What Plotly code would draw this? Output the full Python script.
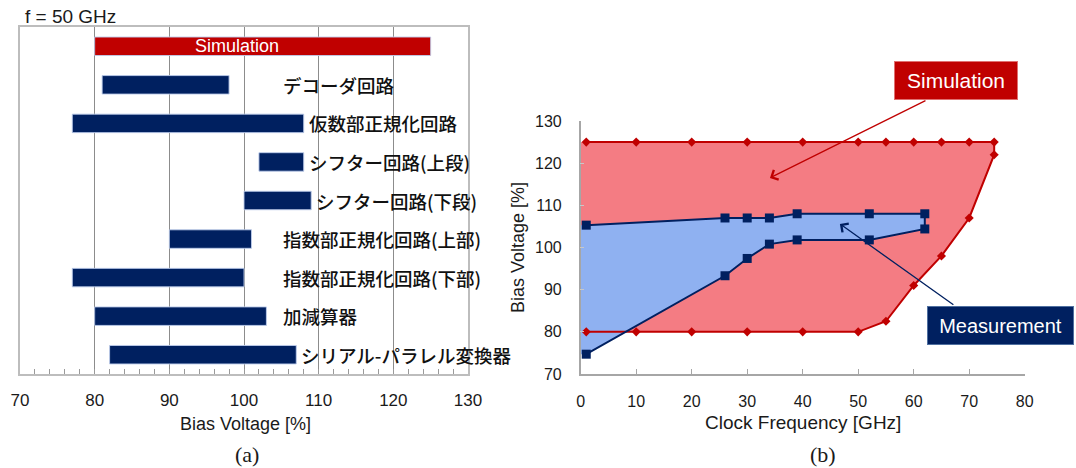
import plotly.graph_objects as go

# ---- (a) operating margin of each block at f = 50 GHz ----
blocks = [
    "Simulation",
    "デコーダ回路",
    "仮数部正規化回路",
    "シフター回路(上段)",
    "シフター回路(下段)",
    "指数部正規化回路(上部)",
    "指数部正規化回路(下部)",
    "加減算器",
    "シリアル-パラレル変換器",
]
bias_min = [80, 81, 77, 102, 100, 90, 77, 80, 82]
bias_max = [125, 98, 108, 108, 109, 101, 100, 103, 107]
bias_ticks = [70, 80, 90, 100, 110, 120, 130]

# ---- (b) bias margin versus clock frequency ----
sim_freq = [1, 10, 20, 30, 40, 50, 55, 60, 65, 70, 74.5]
sim_upper = [125, 125, 125, 125, 125, 125, 125, 125, 125, 125, 125]
sim_lower = [80, 80, 80, 80, 80, 80, 82.5, 91, 98, 107, 122]

meas_freq = [1, 26, 30, 34, 39, 52, 62]
meas_upper = [105.3, 107, 107, 107, 108, 108, 108]
meas_lower = [74.7, 93.3, 97.4, 100.8, 101.8, 101.8, 104.4]

freq_ticks = [0, 10, 20, 30, 40, 50, 60, 70, 80]
volt_ticks = [70, 80, 90, 100, 110, 120, 130]

RED = "#C00000"
NAVY = "#002060"
PINK = "#F47C83"
LIGHTBLUE = "#8FB1F1"
LATIN = "Liberation Sans, Arial, sans-serif"
CJK = "Noto Sans CJK JP, sans-serif"

W, H = 1076, 468
fig = go.Figure()

# horizontal range bars
colors = [RED] + [NAVY] * (len(blocks) - 1)
fig.add_trace(go.Bar(
    y=blocks,
    x=[hi - lo for lo, hi in zip(bias_min, bias_max)],
    base=bias_min,
    orientation="h",
    width=0.48,
    marker=dict(color=colors, line=dict(color="rgba(190,205,235,0.9)", width=1)),
    xaxis="x", yaxis="y",
    hoverinfo="skip",
))

# block names beside each bar
for name, hi in list(zip(blocks, bias_max))[1:]:
    fig.add_annotation(
        x=max(hi + 0.4, 105), y=name, xref="x", yref="y",
        text=name, showarrow=False, xanchor="left", yanchor="middle",
        font=dict(family=CJK, size=18.5, color="#111111", weight=500),
    )
# label written over the simulation bar
fig.add_annotation(
    x=99, y=blocks[0], xref="x", yref="y",
    text="Simulation", showarrow=False, xanchor="center", yanchor="middle",
    font=dict(family=LATIN, size=18, color="white"),
)

# (b) filled regions, extended to the left edge of the axis
x0 = freq_ticks[0]
fig.add_trace(go.Scatter(
    x=[x0] + sim_freq + sim_freq[::-1] + [x0],
    y=[sim_upper[0]] + sim_upper + sim_lower[::-1] + [sim_lower[0]],
    fill="toself", fillcolor=PINK, mode="none",
    xaxis="x2", yaxis="y2", hoverinfo="skip",
))
fig.add_trace(go.Scatter(
    x=[x0] + meas_freq + meas_freq[::-1] + [x0],
    y=[meas_upper[0]] + meas_upper + meas_lower[::-1] + [meas_lower[0]],
    fill="toself", fillcolor=LIGHTBLUE, mode="none",
    xaxis="x2", yaxis="y2", hoverinfo="skip",
))
# boundary lines with markers (open on the left side)
fig.add_trace(go.Scatter(
    x=sim_freq + sim_freq[::-1],
    y=sim_upper + sim_lower[::-1],
    mode="lines+markers",
    line=dict(color=RED, width=2),
    marker=dict(symbol="diamond", size=7, color=RED),
    xaxis="x2", yaxis="y2", cliponaxis=False, hoverinfo="skip",
))
fig.add_trace(go.Scatter(
    x=meas_freq + meas_freq[::-1],
    y=meas_upper + meas_lower[::-1],
    mode="lines+markers",
    line=dict(color=NAVY, width=2),
    marker=dict(symbol="square", size=9, color=NAVY),
    xaxis="x2", yaxis="y2", cliponaxis=False, hoverinfo="skip",
))

# callout boxes with arrows
fig.add_annotation(
    x=956 / W, y=1 - 80.5 / H, xref="paper", yref="paper",
    xanchor="center", yanchor="middle",
    text="Simulation", showarrow=False, width=122, height=37,
    bgcolor=RED, bordercolor="#E07070", borderwidth=1, borderpad=0,
    font=dict(family=LATIN, size=21, color="white"),
)
fig.add_annotation(
    x=34.1, y=116.5, xref="x2", yref="y2", ax=157, ay=-78,
    text="", showarrow=True, arrowhead=4, arrowsize=1.6, arrowwidth=1.3,
    arrowcolor=RED,
)
fig.add_annotation(
    x=1000 / W, y=1 - 325 / H, xref="paper", yref="paper",
    xanchor="center", yanchor="middle",
    text="Measurement", showarrow=False, width=145, height=37,
    bgcolor=NAVY, bordercolor="#5070A0", borderwidth=1, borderpad=0,
    font=dict(family=LATIN, size=20, color="white"),
)
fig.add_annotation(
    x=46.7, y=105.6, xref="x2", yref="y2", ax=115, ay=82,
    text="", showarrow=True, arrowhead=4, arrowsize=1.6, arrowwidth=1.3,
    arrowcolor=NAVY,
)

# titles and captions
texts = [
    ("f = 50 GHz", 23 / W, 1 - 17 / H, "left", 0, LATIN, 19),
    ("Bias Voltage [%]", 245 / W, 1 - 424 / H, "center", 0, LATIN, 18),
    ("Clock Frequency [GHz]", 803 / W, 1 - 422 / H, "center", 0, LATIN, 19),
    ("Bias Voltage [%]", 518 / W, 1 - 248 / H, "center", -90, LATIN, 18),
]
for t, px, py, xa, ang, fam, sz in texts:
    fig.add_annotation(
        x=px, y=py, xref="paper", yref="paper", text=t, showarrow=False,
        xanchor=xa, yanchor="middle", textangle=ang,
        font=dict(family=fam, size=sz, color="#1a1a1a"),
    )
for t, px, py in [("(a)", 247 / W, 1 - 454 / H), ("(b)", 823 / W, 1 - 454 / H)]:
    fig.add_annotation(
        x=px, y=py, xref="paper", yref="paper", text=t, showarrow=False,
        xanchor="center", yanchor="middle",
        font=dict(family="Liberation Serif, DejaVu Serif, serif", size=22, color="#1a1a1a"),
    )

fig.update_layout(
    width=W, height=H,
    margin=dict(l=0, r=0, t=0, b=0, pad=0, autoexpand=False),
    paper_bgcolor="white", plot_bgcolor="white",
    showlegend=False,
    bargap=0.5,
    xaxis=dict(
        domain=[20 / W, 468 / W], range=[bias_ticks[0], bias_ticks[-1]],
        tickvals=bias_ticks, ticks="inside", ticklen=5, tickcolor="#9A9A9A",
        minor=dict(dtick=2, ticks="inside", ticklen=5, tickcolor="#9A9A9A"),
        showgrid=True, gridcolor="#8C8C8C", gridwidth=1,
        showline=True, linecolor="#BDBDBD", linewidth=1.5, mirror=True,
        zeroline=False, ticklabelstandoff=10, automargin=False,
        tickfont=dict(family=LATIN, size=17, color="#1a1a1a"),
    ),
    yaxis=dict(
        domain=[94 / H, 441 / H], autorange="reversed",
        categoryorder="array", categoryarray=blocks,
        showticklabels=False, ticks="", showgrid=False, automargin=False,
        showline=True, linecolor="#BDBDBD", linewidth=1.5, mirror=True,
    ),
    xaxis2=dict(
        domain=[580.7 / W, 1024.7 / W], range=[freq_ticks[0], freq_ticks[-1]],
        anchor="y2", tickvals=freq_ticks, ticks="inside", ticklen=5,
        tickcolor="#A6A6A6", showgrid=False, zeroline=False,
        showline=True, linecolor="#A6A6A6", linewidth=1.5,
        ticklabelstandoff=12, automargin=False,
        tickfont=dict(family=LATIN, size=16, color="#1a1a1a"),
    ),
    yaxis2=dict(
        domain=[94 / H, 347 / H], range=[volt_ticks[0], volt_ticks[-1]],
        anchor="x2", tickvals=volt_ticks, ticks="inside", ticklen=4,
        tickcolor="#C8C8C8", showgrid=False, zeroline=False,
        showline=True, linecolor="#A6A6A6", linewidth=1.5,
        ticklabelstandoff=14, automargin=False,
        tickfont=dict(family=LATIN, size=16, color="#1a1a1a"),
    ),
)

fig.write_html("out.html")
